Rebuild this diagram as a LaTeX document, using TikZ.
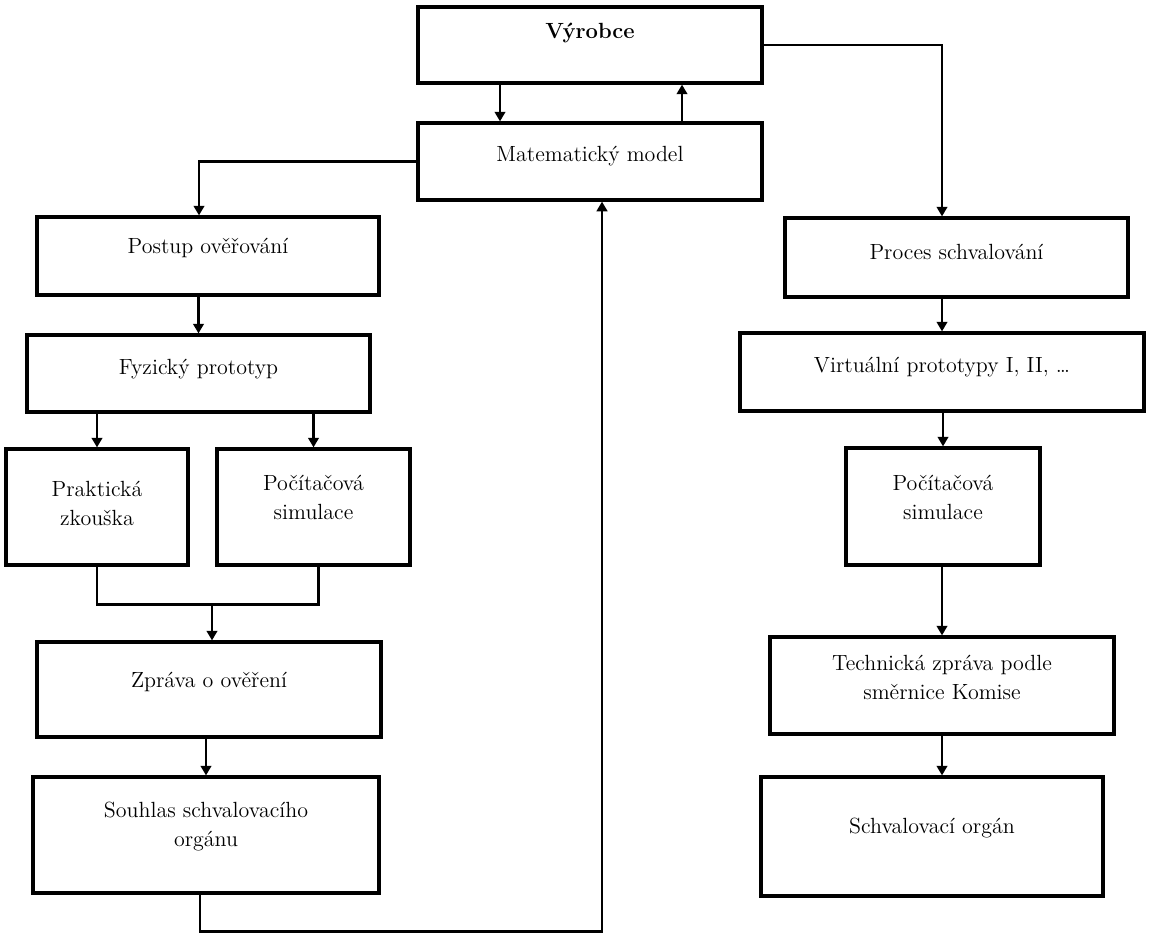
\documentclass[tikz,border=0pt]{standalone}
\usepackage{tikz}
\usetikzlibrary{arrows.meta}

\tikzset{
  box/.style={draw,line width=1.8pt,align=center,inner sep=2pt,
    font=\fontsize{12.5}{16.4}\selectfont},
  lift/.style={execute at end node={\rule[-#1]{0pt}{#1}}},
  arr/.style={line width=1.6pt,-{Triangle[length=5.5pt,width=6pt]}},
  link/.style={line width=1.6pt}
}

\begin{document}
\begin{tikzpicture}
  \useasboundingbox (0,0) rectangle (23.04,-18.76);
  % top
  \node[box,lift=16pt,minimum width=6.88cm,minimum height=1.52cm] (vyrobce) at (11.80,-0.90) {\textbf{Výrobce}};
  \node[box,lift=9pt,minimum width=6.88cm,minimum height=1.54cm] (model) at (11.80,-3.23) {Matematický model};
  % left branch
  \node[box,lift=11.5pt,minimum width=6.84cm,minimum height=1.56cm] (postup) at (4.16,-5.12) {Postup ověřování};
  \node[box,lift=8pt,minimum width=6.86cm,minimum height=1.54cm] (fyzicky) at (3.97,-7.47) {Fyzický prototyp};
  \node[box,lift=4.5pt,minimum width=3.64cm,minimum height=2.32cm] (prakticka) at (1.94,-10.14) {Praktická\\zkouška};
  \node[box,lift=11pt,minimum width=3.86cm,minimum height=2.32cm] (pocL) at (6.27,-10.14) {Počítačová\\simulace};
  \node[box,lift=11.5pt,minimum width=6.88cm,minimum height=1.90cm] (zprava) at (4.18,-13.79) {Zpráva o ověření};
  \node[box,lift=12.5pt,minimum width=6.92cm,minimum height=2.32cm] (souhlas) at (4.12,-16.70) {Souhlas schvalovacího\\orgánu};
  % right branch
  \node[box,lift=6pt,minimum width=6.86cm,minimum height=1.58cm] (proces) at (19.13,-5.15) {Proces schvalování};
  \node[box,lift=8pt,minimum width=8.08cm,minimum height=1.56cm] (virtual) at (18.84,-7.44) {Virtuální prototypy I, II, …};
  \node[box,lift=10pt,minimum width=3.88cm,minimum height=2.34cm] (pocR) at (18.86,-10.13) {Počítačová\\simulace};
  \node[box,lift=9pt,minimum width=6.88cm,minimum height=1.94cm] (tech) at (18.84,-13.71) {Technická zpráva podle\\směrnice Komise};
  \node[box,lift=12.5pt,minimum width=6.84cm,minimum height=2.38cm] (schval) at (18.64,-16.73) {Schvalovací orgán};

  % connectors
  \draw[arr] ([xshift=-1.8cm]vyrobce.south) -- ([xshift=-1.8cm]model.north);
  \draw[arr] ([xshift=1.84cm]model.north) -- ([xshift=1.84cm]vyrobce.south);
  \draw[arr] (vyrobce.east) -| ([xshift=-0.29cm]proces.north);
  \draw[arr] (model.west) -| ([xshift=-0.18cm]postup.north);
  \foreach \a/\b in {postup/fyzicky,fyzicky/prakticka,fyzicky/pocL,zprava/souhlas,
                     proces/virtual,virtual/pocR,pocR/tech}
    \draw[arr] (\a.south -| \b.north) -- (\b.north);
  \draw[arr] (tech.south) -- (tech.south |- schval.north);
  \draw[link] (prakticka.south) -- ++(0,-0.76) coordinate (joinL) -| ([xshift=0.1cm]pocL.south);
  \draw[arr] ([xshift=0.06cm]joinL -| zprava.north) -- ([xshift=0.06cm]zprava.north);
  \draw[arr] ([xshift=-0.12cm]souhlas.south) -- ++(0,-0.74) -| ([xshift=0.24cm]model.south);
\end{tikzpicture}
\end{document}
